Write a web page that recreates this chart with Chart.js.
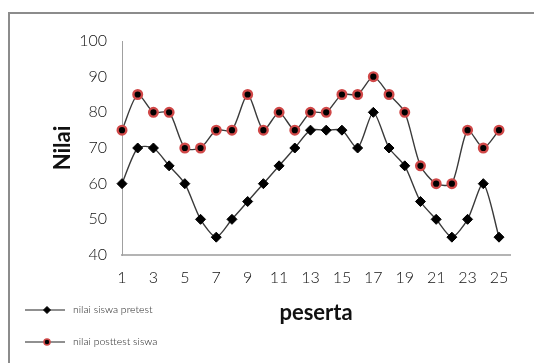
<!DOCTYPE html>
<html>
<head>
<meta charset="utf-8">
<script src="https://cdn.jsdelivr.net/npm/chart.js@4/dist/chart.umd.min.js"></script>
<style>
  html, body { margin: 0; padding: 0; background: #fff; }
  canvas { display: block; }
</style>
</head>
<body>
<canvas id="chart" width="534" height="363"></canvas>
<script>
// Participants and their scores
const peserta = [1, 2, 3, 4, 5, 6, 7, 8, 9, 10, 11, 12, 13, 14, 15, 16, 17, 18, 19, 20, 21, 22, 23, 24, 25];
const nilaiPretest = [60, 70, 70, 65, 60, 50, 45, 50, 55, 60, 65, 70, 75, 75, 75, 70, 80, 70, 65, 55, 50, 45, 50, 60, 45];
const nilaiPosttest = [75, 85, 80, 80, 70, 70, 75, 75, 85, 75, 80, 75, 80, 80, 85, 85, 90, 85, 80, 65, 60, 60, 75, 70, 75];
const xTickLabels = [1, 3, 5, 7, 9, 11, 13, 15, 17, 19, 21, 23, 25];
const seriesNames = ['nilai siswa pretest', 'nilai posttest siswa'];

const FONT = 'Lato, "Open Sans", sans-serif';

const toPoints = vals => peserta.map((p, i) => ({ x: p, y: vals[i] }));

// Grey frame around the whole chart
const framePlugin = {
  id: 'frame',
  beforeDraw(chart) {
    const ctx = chart.ctx;
    ctx.save();
    ctx.fillStyle = '#ffffff';
    ctx.fillRect(0, 0, chart.width, chart.height);
    ctx.strokeStyle = '#8c8c8c';
    ctx.lineWidth = 2;
    ctx.strokeRect(9, 13, chart.width + 40, chart.height + 40);
    ctx.restore();
  }
};

// Legend drawn in the lower-left corner, beside the axis title
const sideLegend = {
  id: 'sideLegend',
  afterDraw(chart) {
    const ctx = chart.ctx;
    const rows = [310, 342];
    chart.data.datasets.forEach((ds, i) => {
      const y = rows[i];
      ctx.save();
      ctx.strokeStyle = '#222';
      ctx.lineWidth = 1.2;
      ctx.beginPath();
      ctx.moveTo(25, y);
      ctx.lineTo(65, y);
      ctx.stroke();
      ctx.fillStyle = ds.pointBackgroundColor;
      ctx.strokeStyle = ds.pointBorderColor;
      ctx.lineWidth = ds.legendBorderWidth;
      Chart.helpers.drawPoint(ctx, {
        pointStyle: ds.pointStyle,
        radius: ds.legendRadius,
        rotation: 0,
        borderWidth: ds.legendBorderWidth
      }, 47, y);
      ctx.fillStyle = '#222';
      ctx.font = '300 10.5px ' + FONT;
      ctx.textBaseline = 'middle';
      ctx.textAlign = 'left';
      ctx.fillText(ds.label, 73, y);
      ctx.restore();
    });
  }
};

new Chart(document.getElementById('chart'), {
  type: 'line',
  data: {
    datasets: [
      {
        label: seriesNames[0],
        data: toPoints(nilaiPretest),
        borderColor: '#3a3a3a',
        borderWidth: 1.4,
        tension: 0.25,
        pointStyle: 'rectRot',
        pointRadius: 5,
        pointBackgroundColor: '#000000',
        pointBorderColor: '#000000',
        pointBorderWidth: 1,
        legendRadius: 3.5,
        legendBorderWidth: 1,
        clip: false
      },
      {
        label: seriesNames[1],
        data: toPoints(nilaiPosttest),
        borderColor: '#3a3a3a',
        borderWidth: 1.4,
        tension: 0.25,
        pointStyle: 'circle',
        pointRadius: 4.3,
        pointBackgroundColor: '#000000',
        pointBorderColor: '#d04848',
        pointBorderWidth: 2.4,
        legendRadius: 3,
        legendBorderWidth: 1.5,
        clip: false
      }
    ]
  },
  options: {
    responsive: false,
    animation: false,
    layout: { padding: { left: 0, top: 41, right: 24, bottom: 0 } },
    plugins: {
      legend: { display: false },
      tooltip: { enabled: false }
    },
    scales: {
      x: {
        type: 'linear',
        min: 1,
        max: 25.7,
        afterBuildTicks(scale) {
          scale.ticks = xTickLabels.map(v => ({ value: v }));
        },
        afterFit(scale) { scale.height = 108; },
        grid: { display: false, drawTicks: false },
        border: { display: true, color: '#b4b4b4', width: 2 },
        ticks: {
          padding: 13,
          color: '#111',
          font: { family: FONT, size: 16, weight: 300 },
          maxRotation: 0,
          autoSkip: false
        },
        title: {
          display: true,
          text: 'peserta',
          color: '#111',
          font: { family: FONT, size: 22, weight: 'bold' },
          padding: { top: 0, bottom: 37 }
        }
      },
      y: {
        min: 40,
        max: 100,
        afterFit(scale) { scale.width = 122; },
        grid: { display: false, drawTicks: false },
        border: { display: true, color: '#a0a0a0', width: 1 },
        ticks: {
          stepSize: 10,
          padding: 15,
          color: '#111',
          font: { family: FONT, size: 16, weight: 300 }
        },
        title: {
          display: true,
          text: 'Nilai',
          color: '#111',
          font: { family: FONT, size: 22, weight: 'bold' },
          padding: { top: 50, bottom: 0 }
        }
      }
    }
  },
  plugins: [framePlugin, sideLegend]
});
</script>
</body>
</html>
